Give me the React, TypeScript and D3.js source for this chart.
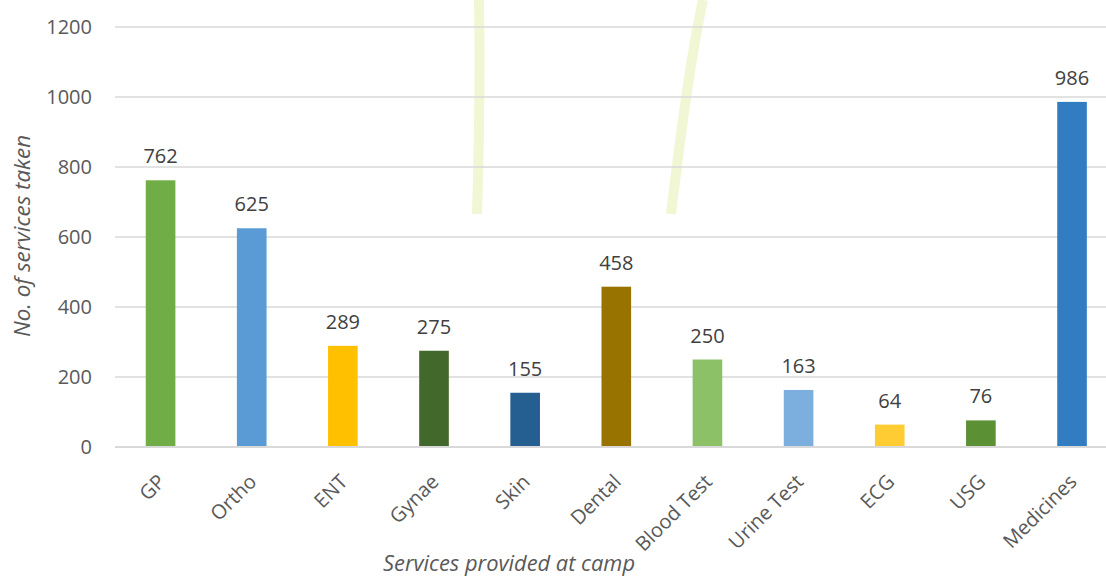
import React, { useEffect, useRef } from 'react';
import * as d3 from 'd3';

const categories = ['GP', 'Ortho', 'ENT', 'Gynae', 'Skin', 'Dental', 'Blood Test', 'Urine Test', 'ECG', 'USG', 'Medicines'];
const values = [762, 625, 289, 275, 155, 458, 250, 163, 64, 76, 986];
const barColors = ['#70AD47', '#5B9BD5', '#FFC000', '#43682B', '#255E91', '#997300', '#8CC168', '#7CAFDD', '#FFCD33', '#5B9034', '#327DC2'];
const yTicks = [0, 200, 400, 600, 800, 1000, 1200];

const W = 1106;
const H = 576;
const FONT = '"Open Sans", "Liberation Sans", sans-serif';

export default function App() {
  const svgRef = useRef<SVGSVGElement>(null);

  useEffect(() => {
    if (!svgRef.current) return;
    const svg = d3.select(svgRef.current);
    svg.selectAll('*').remove();

    const x = d3.scaleBand<string>()
      .domain(categories)
      .range([115, 1117.6])
      .paddingInner(0.675)
      .paddingOuter(0.3375);

    const y = d3.scaleLinear().domain([0, 1200]).range([447, 27]);

    // faint background stems from the source image
    const stems = svg.append('g').attr('fill', 'none').attr('stroke', '#f1f7d4').attr('stroke-linecap', 'butt');
    stems.append('path').attr('d', 'M479,0 C480,60 479,150 477,214').attr('stroke-width', 10);
    stems.append('path').attr('d', 'M703,0 C690,60 680,140 671,214').attr('stroke-width', 10);

    // gridlines
    svg.append('g')
      .selectAll('line')
      .data(yTicks.filter(t => t > 0))
      .join('line')
      .attr('x1', 115)
      .attr('x2', W)
      .attr('y1', d => y(d))
      .attr('y2', d => y(d))
      .attr('stroke', '#d9d9d9')
      .attr('stroke-width', 1.3);

    // y tick labels
    svg.append('g')
      .selectAll('text')
      .data(yTicks)
      .join('text')
      .attr('x', 92)
      .attr('y', d => y(d))
      .attr('dy', '0.36em')
      .attr('text-anchor', 'end')
      .attr('font-family', FONT)
      .attr('font-size', 20)
      .attr('fill', '#595959')
      .text(d => d);

    // bars
    svg.append('g')
      .selectAll('rect')
      .data(values)
      .join('rect')
      .attr('x', (_, i) => x(categories[i])!)
      .attr('y', d => y(d))
      .attr('width', x.bandwidth())
      .attr('height', d => y(0) - y(d))
      .attr('fill', (_, i) => barColors[i]);

    // baseline
    svg.append('line')
      .attr('x1', 115)
      .attr('x2', W)
      .attr('y1', y(0))
      .attr('y2', y(0))
      .attr('stroke', '#d9d9d9')
      .attr('stroke-width', 2);

    // data labels
    svg.append('g')
      .selectAll('text')
      .data(values)
      .join('text')
      .attr('x', (_, i) => x(categories[i])! + x.bandwidth() / 2)
      .attr('y', d => y(d) - 17)
      .attr('text-anchor', 'middle')
      .attr('font-family', FONT)
      .attr('font-size', 20)
      .attr('fill', '#404040')
      .text(d => d);

    // category labels
    svg.append('g')
      .selectAll('text')
      .data(categories)
      .join('text')
      .attr('transform', d => `translate(${x(d)! + x.bandwidth() / 2 + 1},${y(0) + 31}) rotate(-45)`)
      .attr('text-anchor', 'end')
      .attr('dy', '0.35em')
      .attr('font-family', FONT)
      .attr('font-size', 20)
      .attr('fill', '#595959')
      .text(d => d);

    // axis titles
    svg.append('text')
      .attr('x', 383)
      .attr('y', 571)
      .attr('font-family', FONT)
      .attr('font-style', 'italic')
      .attr('font-size', 21)
      .attr('textLength', 252)
      .attr('lengthAdjust', 'spacingAndGlyphs')
      .attr('fill', '#595959')
      .text('Services provided at camp');

    svg.append('text')
      .attr('transform', `translate(30,337) rotate(-90)`)
      .attr('font-family', FONT)
      .attr('font-style', 'italic')
      .attr('font-size', 21)
      .attr('textLength', 202)
      .attr('lengthAdjust', 'spacingAndGlyphs')
      .attr('fill', '#595959')
      .text('No. of services taken');
  }, []);

  return (
    <svg
      ref={svgRef}
      width={W}
      height={H}
      style={{ display: 'block', position: 'absolute', left: 0, top: 0, background: '#fff' }}
    />
  );
}
